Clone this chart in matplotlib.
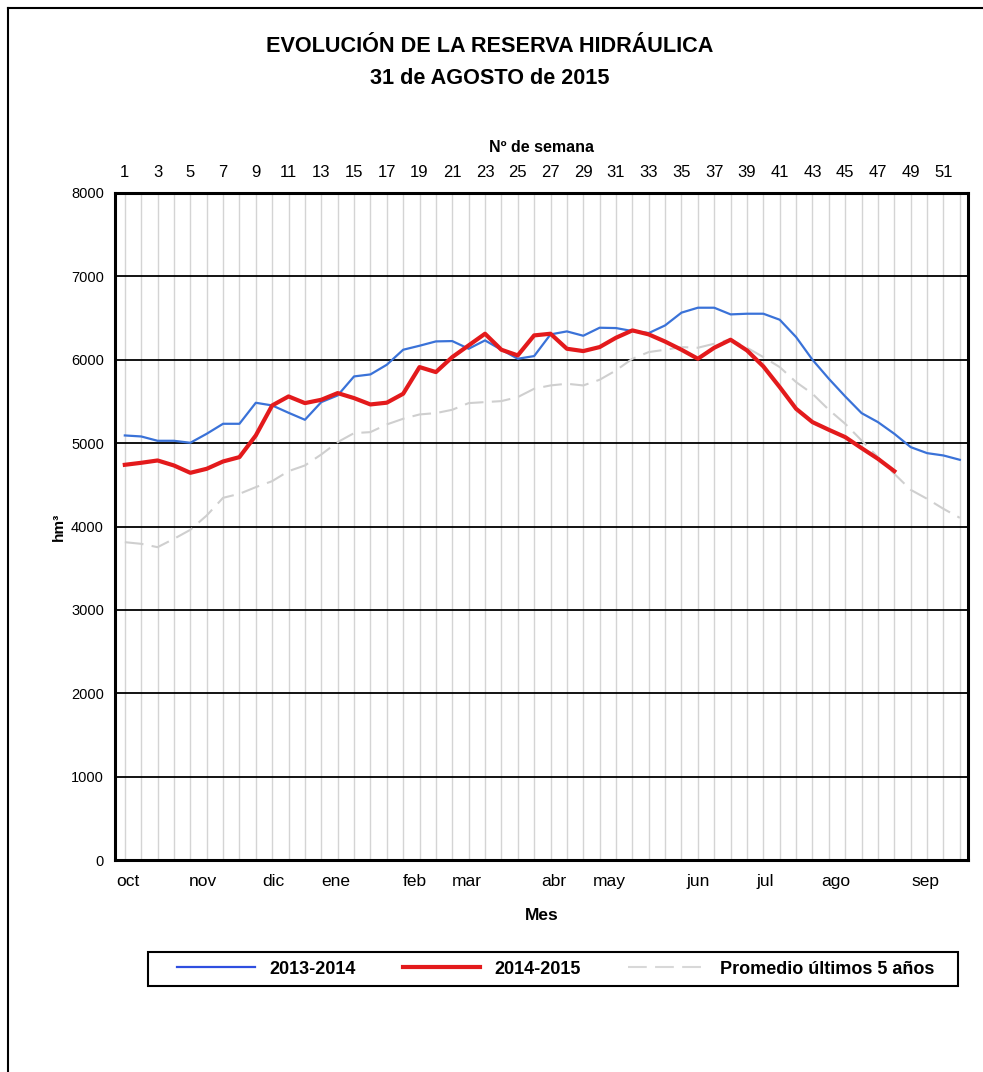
import matplotlib
matplotlib.use("Agg")
import matplotlib.pyplot as plt
from matplotlib.lines import Line2D
from matplotlib.patches import Rectangle

weeks = list(range(1, 53))
serie_2013_2014 = [5092, 5080, 5028, 5028, 5004, 5112, 5232, 5232, 5484, 5452,
                   5364, 5280, 5492, 5572, 5800, 5824, 5940, 6120, 6168, 6220,
                   6224, 6132, 6232, 6120, 6012, 6044, 6304, 6340, 6288, 6384,
                   6380, 6344, 6320, 6412, 6565, 6624, 6624, 6544, 6552, 6552,
                   6480, 6272, 6000, 5772, 5560, 5360, 5252, 5112, 4952, 4880,
                   4852, 4800]
serie_2014_2015 = [4740, 4764, 4792, 4732, 4644, 4692, 4780, 4832, 5092, 5452,
                   5560, 5480, 5520, 5600, 5540, 5464, 5485, 5592, 5912, 5852,
                   6032, 6172, 6312, 6120, 6052, 6292, 6312, 6132, 6104, 6152,
                   6264, 6352, 6304, 6218, 6120, 6012, 6144, 6240, 6112, 5920,
                   5672, 5412, 5252, 5160, 5072, 4940, 4812, 4664]
promedio = [3812, 3792, 3752, 3852, 3960, 4132, 4344, 4392, 4472, 4544,
            4664, 4732, 4864, 5012, 5120, 5132, 5224, 5292, 5344, 5360,
            5400, 5480, 5492, 5504, 5552, 5652, 5692, 5712, 5692, 5760,
            5872, 6012, 6092, 6120, 6152, 6144, 6192, 6245, 6144, 6032,
            5912, 5732, 5592, 5400, 5232, 5032, 4832, 4632, 4440, 4332,
            4212, 4104]
month_labels = ["oct", "nov", "dic", "ene", "feb", "mar", "abr", "may",
                "jun", "jul", "ago", "sep"]
month_pos = [1.2, 5.8, 10.1, 13.9, 18.7, 21.9, 27.2, 30.6, 36.0, 40.1, 44.4, 49.9]
top_ticks = list(range(1, 52, 2))
y_ticks = [0, 1000, 2000, 3000, 4000, 5000, 6000, 7000, 8000]

plt.rcParams['font.family'] = ['Liberation Sans', 'DejaVu Sans']

W, H = 983, 1072
fig = plt.figure(figsize=(W / 100, H / 100), dpi=100)

# figure border
fig.add_artist(Line2D([8 / W, 8 / W], [0, 1 - 8 / H], color='black', lw=1.5, transform=fig.transFigure))
fig.add_artist(Line2D([8 / W, 1], [1 - 8 / H, 1 - 8 / H], color='black', lw=1.5, transform=fig.transFigure))

ax = fig.add_axes([115 / W, 1 - 860 / H, (968 - 115) / W, (860 - 193) / H])

for w in weeks:
    ax.axvline(w, color='#d4d4d4', lw=1.0, zorder=0)
for y in y_ticks[1:-1]:
    ax.axhline(y, color='black', lw=1.3, zorder=1)

ax.plot(weeks, promedio, color='#cfcfcf', lw=1.5, dashes=(9, 4), zorder=2,
        label='Promedio últimos 5 años')
ax.plot(weeks, serie_2013_2014, color='#3a72d8', lw=1.6, zorder=3, label='2013-2014')
ax.plot(weeks[:len(serie_2014_2015)], serie_2014_2015, color='#e31a1c', lw=3.0,
        zorder=4, label='2014-2015')

ax.set_xlim(0.4, 52.5)
ax.set_ylim(0, 8000)
ax.set_yticks(y_ticks)
ax.set_yticklabels([str(v) for v in y_ticks], fontsize=10.5)
ax.set_xticks(month_pos)
ax.set_xticklabels(month_labels, fontsize=12.5)
ax.tick_params(axis='both', length=0)
ax.tick_params(axis='y', pad=8)
ax.tick_params(axis='x', pad=10)
for s in ax.spines.values():
    s.set_linewidth(2.2)
    s.set_color('black')

ax.set_xlabel('Mes', fontsize=12.5, fontweight='bold', labelpad=14)
ax.set_ylabel('hm³', fontsize=11, fontweight='bold', labelpad=4)

sec = ax.secondary_xaxis('top')
sec.set_xticks(top_ticks)
sec.set_xticklabels([str(t) for t in top_ticks], fontsize=12)
sec.tick_params(length=0, pad=9)
sec.set_xlabel('Nº de semana', fontsize=11.5, fontweight='bold', labelpad=10)

fig.text(0.4985, 1 - 46 / H, 'EVOLUCIÓN DE LA RESERVA HIDRÁULICA', ha='center', va='center',
         fontsize=15.6, fontweight='bold')
fig.text(0.4985, 1 - 79 / H, '31 de AGOSTO de 2015', ha='center', va='center',
         fontsize=15.6, fontweight='bold')

# legend box
fig.add_artist(Rectangle((148 / W, 1 - 986 / H), (958 - 148) / W, 34 / H,
                         transform=fig.transFigure, fill=True, facecolor='white',
                         edgecolor='black', lw=1.5, zorder=5))
handles = [Line2D([], [], color='#2f4fe0', lw=1.6),
           Line2D([], [], color='#e31a1c', lw=3.0),
           Line2D([], [], color='#d8d8d8', lw=1.5, dashes=(9, 4))]
labels = ['2013-2014', '2014-2015', 'Promedio últimos 5 años']
leg = fig.legend(handles, labels, loc='center', bbox_to_anchor=(556 / W, 1 - 969 / H),
                 ncol=3, frameon=False,
                 handlelength=4.3, columnspacing=2.6, handletextpad=0.8,
                 borderpad=0.2, prop={'weight': 'bold', 'size': 13})
leg.set_zorder(6)

fig.savefig('out.png', dpi=100)
